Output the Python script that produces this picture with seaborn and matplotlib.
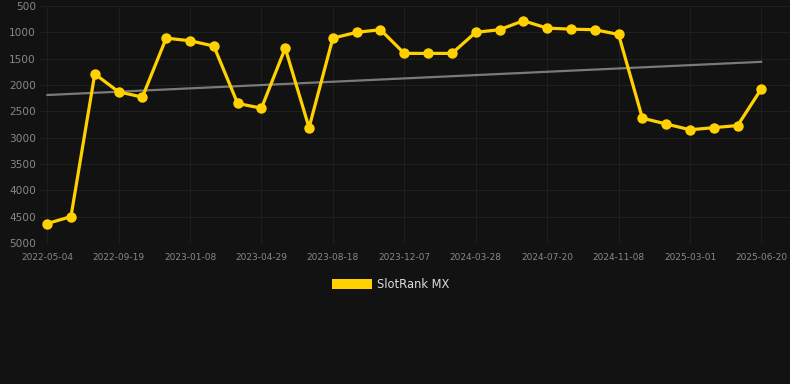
import pandas as pd
import seaborn as sb
import matplotlib.pyplot as plt
from matplotlib.patches import Patch

# rank values, one point per sample (category axis, label every 3rd point)
rank = [4630, 4500, 1790, 2130, 2230, 1110, 1160, 1260, 2350, 2440,
        1300, 2810, 1110, 1000, 950, 1400, 1400, 1400, 1000, 950,
        780, 920, 940, 950, 1040, 2630, 2740, 2850, 2810, 2770, 2070]
tick_labels = ["2022-05-04", "2022-09-19", "2023-01-08", "2023-04-29",
               "2023-08-18", "2023-12-07", "2024-03-28", "2024-07-20",
               "2024-11-08", "2025-03-01", "2025-06-20"]
y_ticks = [500, 1000, 1500, 2000, 2500, 3000, 3500, 4000, 4500, 5000]
trend_ends = [2190, 1560]

bg = "#121212"
gold = "#FFD100"

data = pd.DataFrame({"idx": range(len(rank)), "rank": rank})
trend = pd.DataFrame({"idx": [0, len(rank) - 1], "rank": trend_ends})

sb.set_theme(style="dark")
fig = plt.figure(figsize=(7.9, 3.84), dpi=100, facecolor=bg)
ax = fig.add_axes([40 / 790, 141 / 384, 750 / 790, 237 / 384])
ax.set_facecolor(bg)

sb.lineplot(data=trend, x="idx", y="rank", color="#7a7a7a", linewidth=1.6,
            ax=ax, zorder=2)
sb.lineplot(data=data, x="idx", y="rank", color=gold, linewidth=2.3,
            marker="o", markersize=7.5, markeredgewidth=0, ax=ax, zorder=3)

ax.set_xlim(-0.3, 31.2)
ax.set_ylim(5000, 500)
ax.set_xticks(range(0, len(rank), 3))
ax.set_xticklabels(tick_labels)
ax.set_yticks(y_ticks)
ax.set_yticklabels([str(v) for v in y_ticks])
ax.grid(True, color="#1f1f1f", linewidth=0.8)
ax.tick_params(axis="y", colors="#888888", labelsize=7.6, length=0, pad=3)
ax.tick_params(axis="x", colors="#888888", labelsize=6.5, length=0, pad=7)
for s in ax.spines.values():
    s.set_visible(False)
ax.set_xlabel("")
ax.set_ylabel("")

fig.legend(handles=[Patch(facecolor=gold, edgecolor="none", label="SlotRank MX")],
           loc="center", bbox_to_anchor=(391 / 790, 1 - 284 / 384),
           frameon=False, fontsize=8.3, labelcolor="#dddddd",
           handlelength=3.4, handleheight=0.95, handletextpad=0.5)

plt.savefig("out.png", dpi=100, facecolor=bg)
